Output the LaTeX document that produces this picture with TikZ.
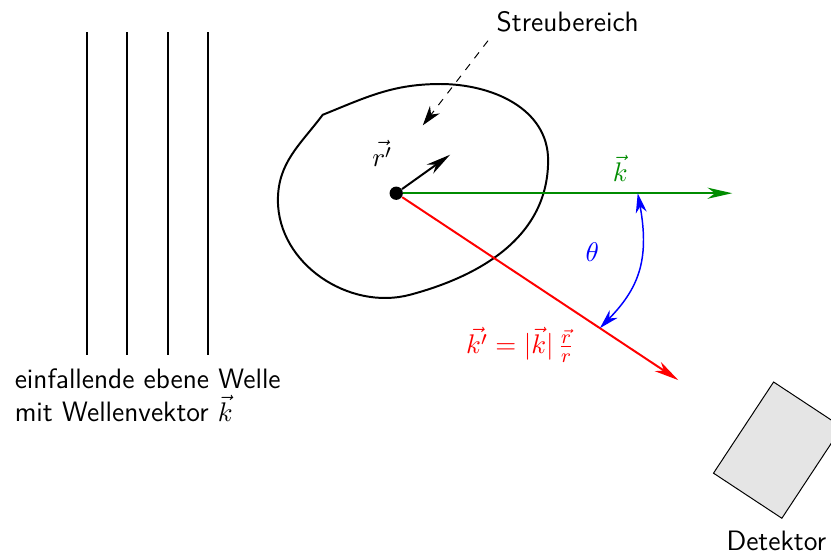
\documentclass[tikz,border=0pt]{standalone}
\usepackage{amsmath,amssymb}
\usepackage{xcolor}
\usepackage{tikz}
\usetikzlibrary{arrows.meta, calc}

\begin{document}
\begin{tikzpicture}[
    every node/.style={font=\fontsize{11.4}{13.2}\selectfont\sffamily},
    wave/.style={thick},
    region/.style={thick, line join=round},
    arrow/.style={-{Stealth[length=10pt, width=4.5pt, inset=3pt]}, thick},
    darrow/.style={-{Stealth[length=8pt, width=5pt, inset=2.5pt]}, dashed},
    tharrow/.style={{Stealth[length=8pt, width=4.5pt, inset=2.5pt]}-{Stealth[length=8pt, width=4.5pt, inset=2.5pt]}, semithick, blue},
    detbox/.style={draw, fill=gray!20, minimum width=1.17cm, minimum height=1.56cm, rotate=-33.4},
  ]

  \useasboundingbox (0,0) rectangle (11.871,-7.9);

  % ---- Incident plane wave ----
  \foreach \i in {0,...,3}
    \draw[wave] ({1.24+0.577*\i},-0.46) -- ({1.24+0.577*\i},-5.07);
  \node[anchor=north, align=left] (wavelbl) at (2.11,-5.15)
    {einfallende ebene Welle\\mit Wellenvektor $\vec{k}$};

  % ---- Scattering region ----
  \draw[region] (4.61,-1.64) to[out=22,in=180] (6.29,-1.20)
    to[out=0,in=90] (7.83,-2.29)
    to[out=-90,in=15] (5.86,-4.21)
    to[out=195,in=-90] (3.97,-2.86)
    to[out=90,in=233] (4.61,-1.64) -- cycle;
  \node (streu) at (8.11,-0.31) {Streubereich};
  \coordinate (streutip) at (6.04,-1.79);
  \draw[darrow] (streu.south west) -- (streutip);

  % ---- Scattering centre and vectors ----
  \node[circle, fill, inner sep=0pt, minimum size=0.19cm] (dot) at (5.66,-2.76) {};
  \coordinate (rtip) at (6.43,-2.21);
  \coordinate (kend) at (10.46,-2.76);
  \coordinate (kpend) at (9.69,-5.43);
  \draw[arrow] (dot) -- (rtip);
  \node (rlbl) at (5.46,-2.19) {$\vec{r'}$};
  \draw[arrow, green!55!black] (dot) -- (kend);
  \node[text=green!55!black] (klbl) at (8.86,-2.40) {$\vec{k}$};
  \draw[arrow, red] (dot) -- (kpend);
  \node[text=red] (kplbl) at (7.43,-4.93) {$\vec{k'} = |\vec{k}|\,\frac{\vec{r}}{r}$};

  % ---- Scattering angle ----
  \coordinate (thA) at (9.11,-2.76);
  \coordinate (thB) at ($(dot)!0.722!(kpend)$);
  \draw[tharrow] (thA) .. controls (9.29,-3.74) and (9.10,-4.14) .. (thB);
  \node[text=blue] (thlbl) at (8.46,-3.60) {$\theta$};

  % ---- Detector ----
  \node[detbox] (det) at (11.11,-6.43) {};
  \node (detlbl) at (11.09,-7.73) {Detektor};

\end{tikzpicture}
\end{document}
